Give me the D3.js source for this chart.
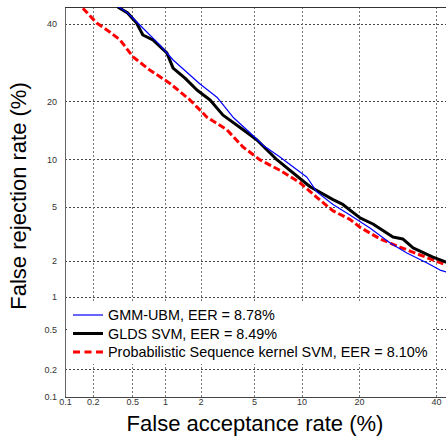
<!DOCTYPE html>
<html lang="en">
<head>
<meta charset="UTF-8">
<title>DET curves</title>
<style>
  body { margin: 0; background: #fff; }
  svg { display: block; font-family: Arial, "Liberation Sans", sans-serif; }
  .tick text { font-size: 9px; fill: #333; }
  .grid line { stroke: #444; stroke-dasharray: 2,2; stroke-width: 1; }
  .grid path { display: none; }
</style>
</head>
<body>
<div id="chart"></div>
<script src="https://d3js.org/d3.v7.min.js"></script>
<script>
// tick values (percent)
const tickLabels = [0.1, 0.2, 0.5, 1, 2, 5, 10, 20, 40];

// series names
const seriesNames = [
  "GMM-UBM, EER = 8.78%",
  "GLDS SVM, EER = 8.49%",
  "Probabilistic Sequence kernel SVM, EER = 8.10%"
];

// GMM-UBM: false acceptance (%) / false rejection (%)
const gmmFA = [0.36, 0.45, 0.59, 0.90, 1.18, 1.98, 2.69, 3.55, 4.69, 5.75, 7.4, 10.75, 12.2, 14.9, 18.1, 22.4, 27.3, 31.7, 37.4, 41.2, 43.0, 45.0];
const gmmFR = [45.3, 43.3, 39.7, 34.0, 29.9, 23.9, 20.9, 16.8, 14.0, 12.0, 10.3, 7.8, 6.3, 5.2, 4.4, 3.55, 2.75, 2.30, 1.92, 1.68, 1.62, 1.55];

// GLDS SVM
const gldsFA = [0.36, 0.45, 0.55, 0.63, 0.78, 1.04, 1.18, 1.49, 1.87, 2.38, 2.99, 4.2, 5.24, 7.1, 11.2, 14.9, 16.7, 20.2, 23.1, 28.0, 30.6, 33.4, 39.1, 43.0, 45.0];
const gldsFR = [45.1, 43.3, 40.3, 36.8, 35.4, 31.8, 27.8, 25.3, 22.5, 20.3, 17.2, 14.5, 12.8, 9.9, 6.8, 5.6, 5.2, 4.2, 3.8, 3.05, 2.95, 2.52, 2.14, 1.95, 1.88];

// Probabilistic Sequence kernel SVM
const pskFA = [0.157, 0.22, 0.30, 0.38, 0.51, 0.73, 1.10, 1.64, 2.25, 3.2, 4.2, 5.5, 7.4, 9.8, 12.2, 14.9, 18.1, 20.2, 24.8, 29.8, 35.4, 43.0, 45.0];
const pskFR = [44.7, 40.3, 37.7, 35.4, 30.7, 27.3, 24.1, 20.3, 16.8, 14.5, 11.7, 9.9, 8.6, 7.2, 5.8, 4.7, 4.1, 3.6, 2.95, 2.56, 2.22, 1.85, 1.80];

const colors = ["#0000ff", "#000000", "#ff0000"];

// inverse normal CDF (Acklam)
function probit(p) {
  const a = [-39.69683028665376, 220.9460984245205, -275.9285104469687, 138.3577518672690, -30.66479806614716, 2.506628277459239];
  const b = [-54.47609879822406, 161.5858368580409, -155.6989798598866, 66.80131188771972, -13.28068155288572];
  const c = [-0.007784894002430293, -0.3223964580411365, -2.400758277161838, -2.549732539343734, 4.374664141464968, 2.938163982698783];
  const d = [0.007784695709041462, 0.3224671290700398, 2.445134137142996, 3.754408661907416];
  const pl = 0.02425;
  let q, r;
  if (p < pl) {
    q = Math.sqrt(-2 * Math.log(p));
    return (((((c[0]*q+c[1])*q+c[2])*q+c[3])*q+c[4])*q+c[5]) / ((((d[0]*q+d[1])*q+d[2])*q+d[3])*q+1);
  } else if (p <= 1 - pl) {
    q = p - 0.5; r = q * q;
    return (((((a[0]*r+a[1])*r+a[2])*r+a[3])*r+a[4])*r+a[5])*q / (((((b[0]*r+b[1])*r+b[2])*r+b[3])*r+b[4])*r+1);
  }
  q = Math.sqrt(-2 * Math.log(1 - p));
  return -(((((c[0]*q+c[1])*q+c[2])*q+c[3])*q+c[4])*q+c[5]) / ((((d[0]*q+d[1])*q+d[2])*q+d[3])*q+1);
}
const pz = v => probit(v / 100);

const width = 446, height = 436;
const plotLeft = 65, plotTop = 7, plotBottom = 397;

const svg = d3.select("#chart").append("svg")
  .attr("width", width)
  .attr("height", height);

// probit scales, 0.1% .. 40%
const x = d3.scaleLinear().domain([pz(0.1), pz(40)]).range([65, 436]);
const y = d3.scaleLinear().domain([pz(0.1), pz(40)]).range([397, 24]);

const tickZ = tickLabels.map(pz);
const fmt = z => tickLabels[tickZ.indexOf(z)];

// grid
svg.append("g").attr("class", "grid")
  .selectAll("line.h").data(tickLabels.slice(1)).enter().append("line")
  .attr("x1", plotLeft).attr("x2", width)
  .attr("y1", d => Math.round(y(pz(d))) + 0.5).attr("y2", d => Math.round(y(pz(d))) + 0.5);
svg.append("g").attr("class", "grid")
  .selectAll("line.v").data(tickLabels.slice(1)).enter().append("line")
  .style("stroke", "#777")
  .attr("y1", plotTop).attr("y2", plotBottom)
  .attr("x1", d => Math.round(x(pz(d))) + 0.5).attr("x2", d => Math.round(x(pz(d))) + 0.5);

// axes
const xAxis = svg.append("g").attr("transform", `translate(0,${plotBottom})`)
  .call(d3.axisBottom(x).tickValues(tickZ).tickFormat(fmt).tickSize(0).tickPadding(2));
xAxis.select(".domain").remove();
const yAxis = svg.append("g").attr("transform", `translate(${plotLeft},0)`)
  .call(d3.axisLeft(y).tickValues(tickZ).tickFormat(fmt).tickSize(0).tickPadding(8));
yAxis.select(".domain").remove();

// frame
svg.append("line").attr("x1", plotLeft + 0.5).attr("x2", plotLeft + 0.5).attr("y1", plotTop).attr("y2", plotBottom + 0.5)
  .attr("stroke", "#666");
svg.append("line").attr("x1", plotLeft).attr("x2", width).attr("y1", plotBottom + 0.5).attr("y2", plotBottom + 0.5)
  .attr("stroke", "#444");
svg.append("line").attr("x1", plotLeft).attr("x2", width).attr("y1", plotTop + 0.5).attr("y2", plotTop + 0.5)
  .attr("stroke", "#333");

// curves
svg.append("clipPath").attr("id", "clip")
  .append("rect").attr("x", plotLeft).attr("y", plotTop).attr("width", width - plotLeft).attr("height", plotBottom - plotTop);

const line = d3.line().x(d => x(pz(d[0]))).y(d => y(pz(d[1])));
const series = [
  { fa: gmmFA, fr: gmmFR, w: 1.2, dash: null },
  { fa: gldsFA, fr: gldsFR, w: 3, dash: null },
  { fa: pskFA, fr: pskFR, w: 3, dash: "7,3" }
];
const g = svg.append("g").attr("clip-path", "url(#clip)");
series.slice().reverse().forEach((s, i) => {
  const idx = series.length - 1 - i;
  g.append("path")
    .datum(d3.zip(s.fa, s.fr))
    .attr("fill", "none")
    .attr("stroke", colors[idx])
    .attr("stroke-width", s.w)
    .attr("stroke-dasharray", s.dash)
    .attr("stroke-linejoin", "round")
    .attr("d", line);
});

// legend
const leg = svg.append("g");
leg.append("rect").attr("x", 68).attr("y", 301).attr("width", 364).attr("height", 63).attr("fill", "#fff");
seriesNames.forEach((name, i) => {
  const yy = 315 + i * 18.5;
  leg.append("line").attr("x1", 73).attr("x2", 103).attr("y1", yy).attr("y2", yy)
    .attr("stroke", colors[i]).attr("stroke-width", series[i].w)
    .attr("stroke-dasharray", i === 2 ? "7,4.5" : null);
  leg.append("text").attr("x", 108).attr("y", yy + 5)
    .attr("font-size", 14.4).attr("fill", "#000").text(name);
});

// axis titles
svg.append("text").attr("x", 255).attr("y", 431).attr("text-anchor", "middle")
  .attr("font-size", 22).text("False acceptance rate (%)");
svg.append("text").attr("transform", "translate(26,196) rotate(-90)").attr("text-anchor", "middle")
  .attr("font-size", 22).text("False rejection rate (%)");
</script>
</body>
</html>
